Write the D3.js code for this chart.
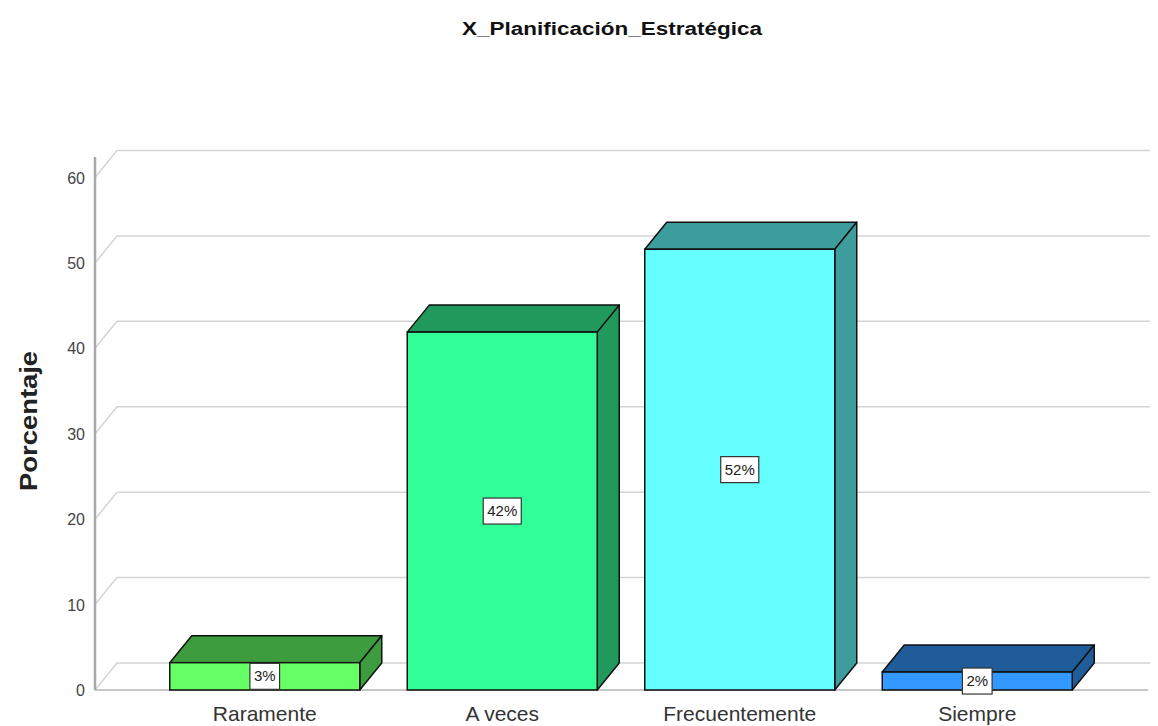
<!DOCTYPE html>
<html lang="es">
<head>
  <meta charset="UTF-8">
  <title>X_Planificación_Estratégica</title>
  <script src="https://d3js.org/d3.v7.min.js"></script>
  <style>
    html, body { margin: 0; padding: 0; background: #fff; }
    body { font-family: Arial, "Liberation Sans", sans-serif; }
    .grid { stroke: #d4d4d4; stroke-width: 1.5; fill: none; }
    .tick-label { font-size: 16px; fill: #444; }
    .cat-label { font-size: 21px; fill: #333; }
    .bar-label { font-size: 15px; fill: #222; }
  </style>
</head>
<body>
  <svg id="chart" width="1158" height="726"></svg>
  <script>
    // Data
    const categories = ["Raramente", "A veces", "Frecuentemente", "Siempre"];
    const percentages = [3.2, 41.9, 51.6, 2.1];
    const frontColors = ["#66ff66", "#33ff99", "#66ffff", "#3399ff"];
    const depthColors = ["#3d9c3d", "#22995c", "#3d9c9c", "#1f5c99"];
    const yTicks = [0, 10, 20, 30, 40, 50, 60];

    const svg = d3.select("#chart");
    const axisX = 95, rightEdge = 1150;
    const depthX = 22, depthY = -27;

    const x = d3.scaleBand()
      .domain(categories)
      .range([146, 1096])
      .paddingInner(0.2)
      .paddingOuter(0.1);

    const y = d3.scaleLinear()
      .domain([0, 62.4])
      .range([690, 157]);

    // Title
    svg.append("text")
      .attr("x", 612)
      .attr("y", 35)
      .attr("text-anchor", "middle")
      .attr("font-size", 18)
      .attr("font-weight", "bold")
      .attr("fill", "#111")
      .attr("textLength", 300)
      .attr("lengthAdjust", "spacingAndGlyphs")
      .text("X_Planificación_Estratégica");

    // Y axis title
    svg.append("text")
      .attr("transform", `translate(37,${y(31.5)}) rotate(-90)`)
      .attr("text-anchor", "middle")
      .attr("font-size", 24)
      .attr("font-weight", "bold")
      .attr("fill", "#222")
      .attr("textLength", 140)
      .attr("lengthAdjust", "spacingAndGlyphs")
      .text("Porcentaje");

    // 3D grid lines (diagonal to back wall, then horizontal)
    const grid = svg.append("g");
    yTicks.forEach(t => {
      grid.append("path")
        .attr("class", "grid")
        .attr("d", `M${axisX},${y(t)}L${axisX + depthX},${y(t) + depthY}L${rightEdge},${y(t) + depthY}`);
    });

    // Front baseline
    svg.append("line")
      .attr("x1", axisX).attr("x2", rightEdge - 2)
      .attr("y1", y(0)).attr("y2", y(0))
      .attr("stroke", "#b5b5b5").attr("stroke-width", 1.5);

    // Y axis line and tick labels
    svg.append("line")
      .attr("x1", axisX).attr("x2", axisX)
      .attr("y1", y.range()[1]).attr("y2", y(0))
      .attr("stroke", "#a8a8a8").attr("stroke-width", 2.5);

    svg.selectAll(".tick-label")
      .data(yTicks)
      .enter().append("text")
      .attr("class", "tick-label")
      .attr("x", 85)
      .attr("y", d => y(d) + 6)
      .attr("text-anchor", "end")
      .text(d => d);

    // Bars
    const bar = svg.selectAll(".bar")
      .data(categories)
      .enter().append("g")
      .attr("class", "bar");

    const bw = x.bandwidth();

    // top face
    bar.append("path")
      .attr("d", (d, i) => {
        const x0 = x(d), yt = y(percentages[i]);
        return `M${x0},${yt}L${x0 + depthX},${yt + depthY}L${x0 + bw + depthX},${yt + depthY}L${x0 + bw},${yt}Z`;
      })
      .attr("fill", (d, i) => depthColors[i])
      .attr("stroke", "#111").attr("stroke-width", 1.5)
      .attr("stroke-linejoin", "round");

    // side face
    bar.append("path")
      .attr("d", (d, i) => {
        const x1 = x(d) + bw, yt = y(percentages[i]), yb = y(0);
        return `M${x1},${yt}L${x1 + depthX},${yt + depthY}L${x1 + depthX},${yb + depthY}L${x1},${yb}Z`;
      })
      .attr("fill", (d, i) => depthColors[i])
      .attr("stroke", "#111").attr("stroke-width", 1.5)
      .attr("stroke-linejoin", "round");

    // front face
    bar.append("rect")
      .attr("x", d => x(d))
      .attr("y", (d, i) => y(percentages[i]))
      .attr("width", bw)
      .attr("height", (d, i) => y(0) - y(percentages[i]))
      .attr("fill", (d, i) => frontColors[i])
      .attr("stroke", "#111").attr("stroke-width", 1.5);

    // value labels, boxed, centred on the front face
    bar.each(function(d, i) {
      const g = d3.select(this);
      const cx = x(d) + bw / 2;
      const cy = (y(percentages[i]) + y(0)) / 2;
      const label = Math.round(percentages[i]) + "%";
      const t = g.append("text")
        .attr("class", "bar-label")
        .attr("x", cx)
        .attr("y", cy + 5)
        .attr("text-anchor", "middle")
        .text(label);
      const w = t.node().getComputedTextLength() + 8;
      g.insert("rect", "text")
        .attr("x", cx - w / 2)
        .attr("y", cy - 13)
        .attr("width", w)
        .attr("height", 26)
        .attr("fill", "#fff")
        .attr("stroke", "#333")
        .attr("stroke-width", 1.2);
    });

    // Category labels
    svg.selectAll(".cat-label")
      .data(categories)
      .enter().append("text")
      .attr("class", "cat-label")
      .attr("x", d => x(d) + bw / 2)
      .attr("y", 721)
      .attr("text-anchor", "middle")
      .text(d => d);
  </script>
</body>
</html>
